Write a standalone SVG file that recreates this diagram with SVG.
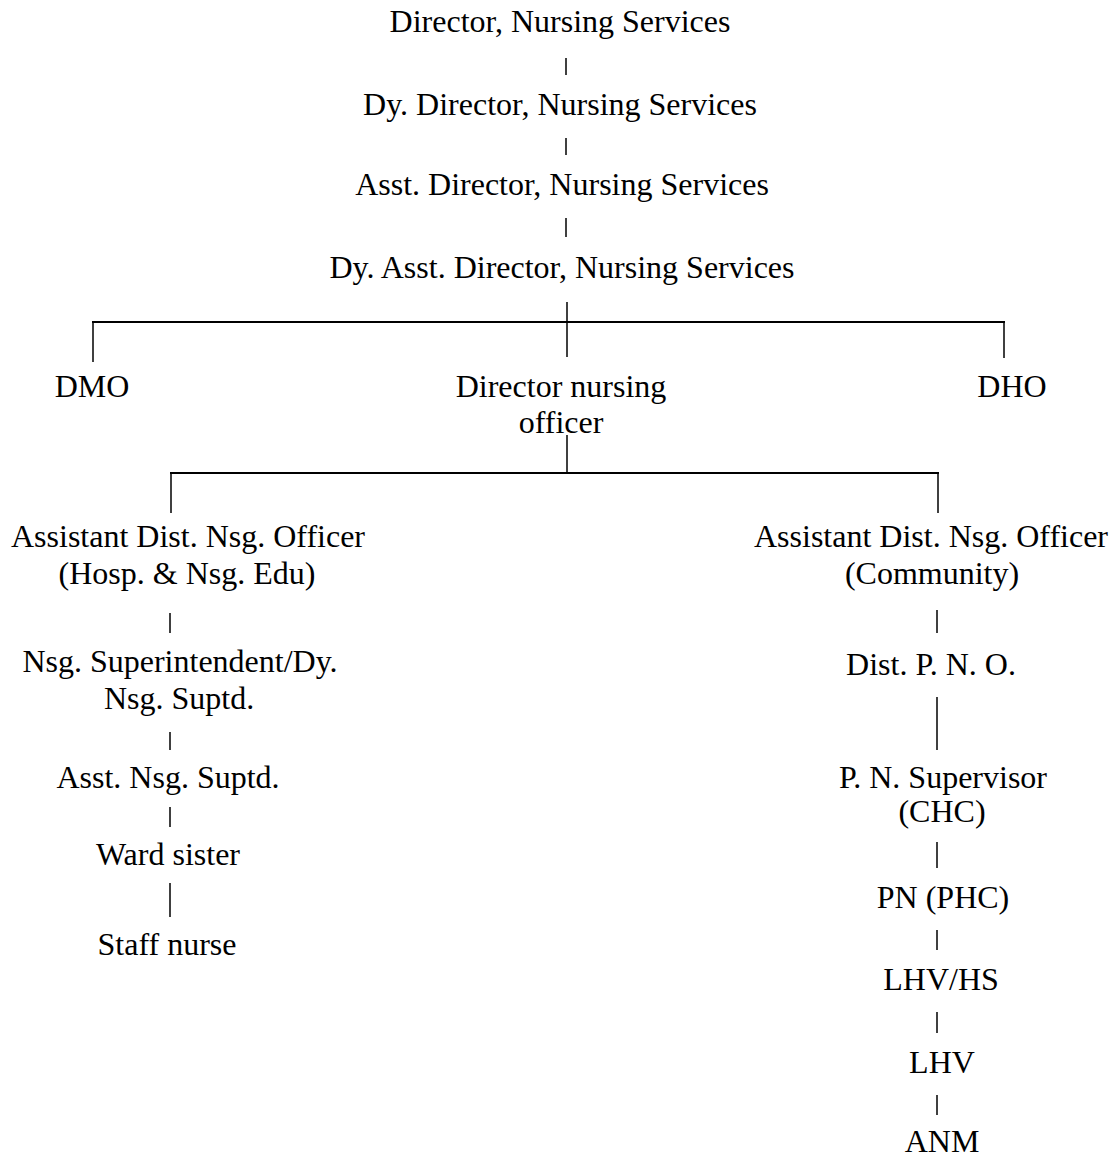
<svg xmlns="http://www.w3.org/2000/svg" width="1117" height="1159" viewBox="0 0 1117 1159">
<style>
text { font-family: "Liberation Serif", "Times New Roman", serif; font-size: 32px; fill: #000; text-anchor: middle; }
.conn line { stroke: #000; stroke-width: 2; fill: none; }
.conn line.tick { stroke-width: 1.5; }
</style>
<rect width="1117" height="1159" fill="#fff"/>
<g class="conn" id="connectors">
<line class="tick" x1="566" y1="58" x2="566" y2="75"/>
<line class="tick" x1="566" y1="138" x2="566" y2="155"/>
<line class="tick" x1="566" y1="218" x2="566" y2="237"/>
<line class="tick" x1="567" y1="302" x2="567" y2="357"/>
<line x1="92" y1="322" x2="1005" y2="322"/>
<line class="tick" x1="93" y1="322" x2="93" y2="362"/>
<line class="tick" x1="1004" y1="322" x2="1004" y2="358"/>
<line class="tick" x1="567" y1="435" x2="567" y2="473"/>
<line x1="170" y1="473" x2="939" y2="473"/>
<line class="tick" x1="171" y1="473" x2="171" y2="513"/>
<line class="tick" x1="938" y1="473" x2="938" y2="513"/>
<line class="tick" x1="170" y1="613" x2="170" y2="633"/>
<line class="tick" x1="170" y1="732" x2="170" y2="750"/>
<line class="tick" x1="170" y1="807" x2="170" y2="827"/>
<line class="tick" x1="170" y1="883" x2="170" y2="917"/>
<line class="tick" x1="937" y1="610" x2="937" y2="633"/>
<line class="tick" x1="937" y1="697" x2="937" y2="750"/>
<line class="tick" x1="937" y1="842" x2="937" y2="868"/>
<line class="tick" x1="937" y1="930" x2="937" y2="950"/>
<line class="tick" x1="937" y1="1012" x2="937" y2="1033"/>
<line class="tick" x1="937" y1="1095" x2="937" y2="1115"/>
</g>
<g id="director"><text x="560" y="32">Director, Nursing Services</text></g>
<g id="dy-director"><text x="560" y="115">Dy. Director, Nursing Services</text></g>
<g id="asst-director"><text x="562" y="195">Asst. Director, Nursing Services</text></g>
<g id="dy-asst-director"><text x="562" y="278">Dy. Asst. Director, Nursing Services</text></g>
<g id="dmo"><text x="92" y="397">DMO</text></g>
<g id="dno"><text x="561" y="397">Director nursing</text><text x="561" y="433">officer</text></g>
<g id="dho"><text x="1012" y="397">DHO</text></g>
<g id="adno-hosp"><text x="188" y="547">Assistant Dist. Nsg. Officer</text><text x="187" y="584">(Hosp. &amp; Nsg. Edu)</text></g>
<g id="nsg-supt"><text x="180" y="672">Nsg. Superintendent/Dy.</text><text x="179" y="709">Nsg. Suptd.</text></g>
<g id="asst-nsg-supt"><text x="168" y="788">Asst. Nsg. Suptd.</text></g>
<g id="ward-sister"><text x="168" y="865">Ward sister</text></g>
<g id="staff-nurse"><text x="167" y="955">Staff nurse</text></g>
<g id="adno-comm"><text x="931" y="547">Assistant Dist. Nsg. Officer</text><text x="932" y="584">(Community)</text></g>
<g id="dist-pno"><text x="931" y="675">Dist. P. N. O.</text></g>
<g id="pn-supervisor"><text x="943" y="788">P. N. Supervisor</text><text x="942" y="822">(CHC)</text></g>
<g id="pn-phc"><text x="943" y="908">PN (PHC)</text></g>
<g id="lhv-hs"><text x="941" y="990">LHV/HS</text></g>
<g id="lhv"><text x="942" y="1073">LHV</text></g>
<g id="anm"><text x="942" y="1152">ANM</text></g>
</svg>
